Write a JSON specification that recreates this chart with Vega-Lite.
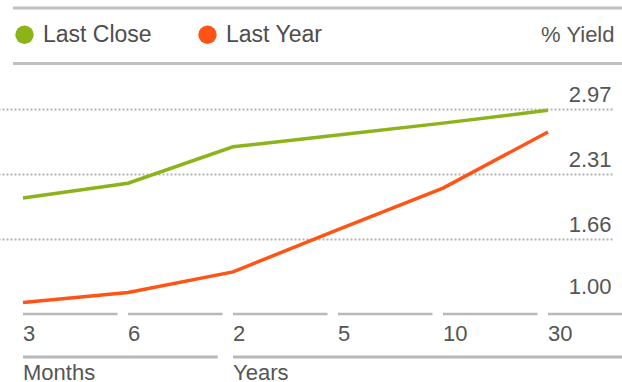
{
  "$schema": "https://vega.github.io/schema/vega-lite/v6.json",
  "width": 609,
  "height": 382,
  "autosize": {"type": "none"},
  "padding": {"left": 13, "top": 0, "right": 0, "bottom": 0},
  "background": "white",
  "config": {"view": {"stroke": null}, "font": "Liberation Sans"},
  "datasets": {
    "curve": [
      {"series": "Last Close", "tenor": "3M", "label": "3", "yield": 2.07},
      {"series": "Last Close", "tenor": "6M", "label": "6", "yield": 2.22},
      {"series": "Last Close", "tenor": "2Y", "label": "2", "yield": 2.59},
      {"series": "Last Close", "tenor": "5Y", "label": "5", "yield": 2.71},
      {"series": "Last Close", "tenor": "10Y", "label": "10", "yield": 2.83},
      {"series": "Last Close", "tenor": "30Y", "label": "30", "yield": 2.96},
      {"series": "Last Year", "tenor": "3M", "label": "3", "yield": 1.01},
      {"series": "Last Year", "tenor": "6M", "label": "6", "yield": 1.11},
      {"series": "Last Year", "tenor": "2Y", "label": "2", "yield": 1.32},
      {"series": "Last Year", "tenor": "5Y", "label": "5", "yield": 1.75},
      {"series": "Last Year", "tenor": "10Y", "label": "10", "yield": 2.17},
      {"series": "Last Year", "tenor": "30Y", "label": "30", "yield": 2.74}
    ],
    "groups": [
      {"unit": "Months", "from": "3M", "to": "6M"},
      {"unit": "Years", "from": "2Y", "to": "30Y"}
    ]
  },
  "layer": [
    {
      "data": {"values": [{}]},
      "mark": {"type": "rule", "color": "#c0c0c0", "strokeWidth": 3},
      "encoding": {"y": {"datum": 4.0, "type": "quantitative"}}
    },
    {
      "data": {"values": [{}]},
      "mark": {"type": "rule", "color": "#c0c0c0", "strokeWidth": 3},
      "encoding": {"y": {"datum": 3.435, "type": "quantitative"}}
    },
    {
      "data": {"name": "curve"},
      "transform": [{"filter": "datum.series == 'Last Close'"}],
      "mark": {"type": "bar", "color": "#b8b8b8"},
      "encoding": {
        "x": {"field": "tenor", "type": "nominal", "axis": null,
              "scale": {"type": "band", "domain": ["3M", "6M", "2Y", "5Y", "10Y", "30Y"], "range": [10, 629.5], "paddingInner": 0.1, "paddingOuter": 0}},
        "y": {"datum": 0.905, "type": "quantitative"},
        "y2": {"datum": 0.88}
      }
    },
    {
      "data": {"name": "curve"},
      "transform": [{"filter": "datum.series == 'Last Close'"}],
      "mark": {"type": "text", "align": "left", "baseline": "alphabetic", "fontSize": 22, "color": "#555555"},
      "encoding": {
        "x": {"field": "tenor", "type": "nominal", "bandPosition": 0, "axis": null,
              "scale": {"type": "band", "domain": ["3M", "6M", "2Y", "5Y", "10Y", "30Y"], "range": [10, 629.5], "paddingInner": 0.1, "paddingOuter": 0}},
        "y": {"datum": 0.621, "type": "quantitative"},
        "text": {"field": "label"}
      }
    },
    {
      "data": {"name": "groups"},
      "mark": {"type": "rule", "color": "#b8b8b8", "strokeWidth": 3},
      "encoding": {
        "x": {"field": "from", "type": "nominal", "bandPosition": 0, "axis": null,
              "scale": {"type": "band", "domain": ["3M", "6M", "2Y", "5Y", "10Y", "30Y"], "range": [10, 629.5], "paddingInner": 0.1, "paddingOuter": 0}},
        "x2": {"field": "to", "bandPosition": 0.95},
        "y": {"datum": 0.456, "type": "quantitative"}
      }
    },
    {
      "data": {"name": "groups"},
      "mark": {"type": "text", "align": "left", "baseline": "alphabetic", "fontSize": 22, "color": "#555555"},
      "encoding": {
        "x": {"field": "from", "type": "nominal", "bandPosition": 0, "axis": null,
              "scale": {"type": "band", "domain": ["3M", "6M", "2Y", "5Y", "10Y", "30Y"], "range": [10, 629.5], "paddingInner": 0.1, "paddingOuter": 0}},
        "y": {"datum": 0.222, "type": "quantitative"},
        "text": {"field": "unit"}
      }
    },
    {
      "data": {"name": "curve"},
      "mark": {"type": "line", "strokeWidth": 3.5},
      "encoding": {
        "x": {"field": "tenor", "type": "nominal", "bandPosition": 0, "axis": null,
              "scale": {"type": "band", "domain": ["3M", "6M", "2Y", "5Y", "10Y", "30Y"], "range": [10, 629.5], "paddingInner": 0.1, "paddingOuter": 0}},
        "y": {
          "field": "yield", "type": "quantitative",
          "scale": {"domain": [0.202, 4.08], "nice": false, "zero": false},
          "axis": {
            "orient": "right",
            "values": [1.0, 1.6567, 2.3133, 2.97],
            "format": ".2f",
            "title": "% Yield",
            "titleAngle": 0, "titleAlign": "right", "titleBaseline": "alphabetic",
            "titleX": -8, "titleY": 41, "titleFontSize": 22, "titleFontWeight": "normal", "titleColor": "#555555",
            "labelAlign": "right", "labelBaseline": "alphabetic",
            "labelOffset": {"condition": {"test": "datum.value < 1.1", "value": -10}, "value": -7.5},
            "labelPadding": -11,
            "labelFontSize": 22, "labelColor": "#555555", "labelFlush": false, "labelOverlap": false,
            "ticks": false, "domain": false,
            "grid": true, "gridColor": "#b3b3b3", "gridWidth": 2, "gridDash": [2, 2],
            "gridOpacity": {"condition": {"test": "datum.value < 1.1", "value": 0}, "value": 1}
          }
        },
        "color": {
          "field": "series", "type": "nominal",
          "scale": {"domain": ["Last Close", "Last Year"], "range": ["#8db31b", "#ff5416"]},
          "legend": {
            "orient": "none", "legendX": 0, "legendY": 23, "direction": "horizontal", "title": null,
            "symbolType": "circle", "symbolSize": 340, "symbolStrokeWidth": 0,
            "labelFontSize": 23, "labelColor": "#4d4d4d", "labelOffset": 7, "columnPadding": 44,
            "padding": 0, "labelLimit": 300,
            "encode": {"symbols": {"update": {"fill": {"scale": "color", "field": "value"}, "fillOpacity": {"value": 1}}}}
          }
        }
      }
    }
  ]
}
